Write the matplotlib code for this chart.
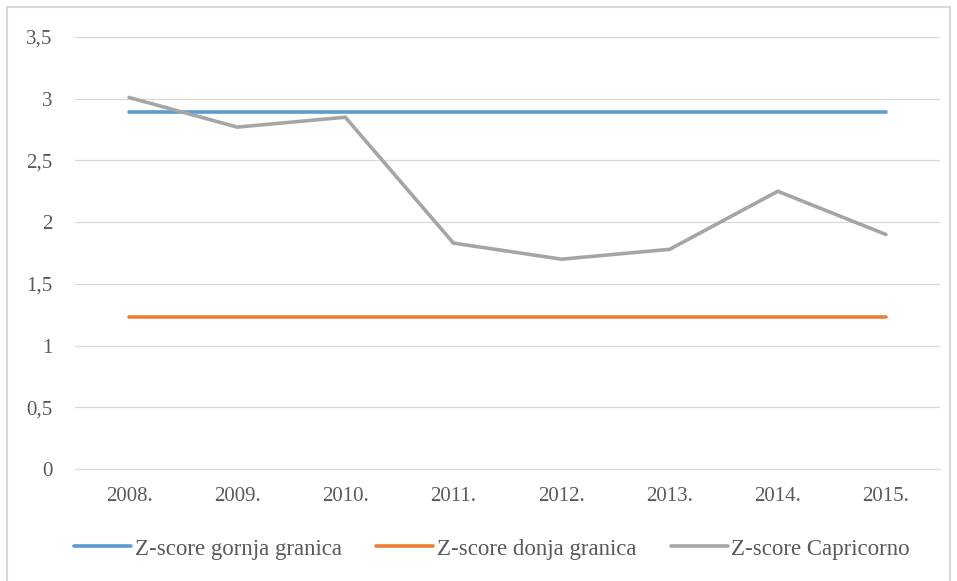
import numpy as np
import matplotlib.pyplot as plt
from matplotlib.patches import Rectangle

years = ["2008.", "2009.", "2010.", "2011.", "2012.", "2013.", "2014.", "2015."]
gornja = [2.89, 2.89, 2.89, 2.89, 2.89, 2.89, 2.89, 2.89]
donja = [1.23, 1.23, 1.23, 1.23, 1.23, 1.23, 1.23, 1.23]
capricorno = [3.01, 2.77, 2.85, 1.83, 1.70, 1.78, 2.25, 1.90]

plt.rcParams['font.family'] = ['Liberation Serif', 'DejaVu Serif']

fig = plt.figure(figsize=(9.57, 5.81), dpi=100)
W, H = 957, 581
ax = fig.add_axes([75 / W, 1 - 469 / H, (940 - 75) / W, (469 - 37) / H])

x = np.arange(len(years))
ax.plot(x, gornja, color="#5B9BD5", lw=2.6, solid_capstyle="round", label="Z-score gornja granica")
ax.plot(x, donja, color="#ED7D31", lw=2.6, solid_capstyle="round", label="Z-score donja granica")
ax.plot(x, capricorno, color="#A5A5A5", lw=2.6, solid_capstyle="round", label="Z-score Capricorno")

ax.set_xlim(-0.5, len(years) - 0.5)
ax.set_ylim(0, 3.5)
ax.set_yticks(np.arange(0, 3.51, 0.5))
ax.set_yticklabels(["0", "0,5", "1", "1,5", "2", "2,5", "3", "3,5"])
ax.set_xticks(x)
ax.set_xticklabels(years)
ax.grid(axis="y", color="#D9D9D9", lw=0.9)
ax.set_axisbelow(True)
for s in ax.spines.values():
    s.set_visible(False)
ax.spines["bottom"].set_visible(True)
ax.spines["bottom"].set_color("#D9D9D9")
ax.tick_params(length=0, labelsize=15, labelcolor="#595959")
ax.tick_params(axis="y", pad=16)
ax.tick_params(axis="x", pad=13)

fig.legend(loc="center", bbox_to_anchor=(492 / W, 1 - 549 / H), ncol=3, frameon=False,
           fontsize=16.5, labelcolor="#595959", handlelength=2.5, handletextpad=0.15,
           columnspacing=1.5)

fig.patches.append(Rectangle((7 / W, -0.01), (950 - 7) / W, 1 - 7 / H + 0.01,
                             transform=fig.transFigure, fill=False,
                             edgecolor="#D9D9D9", lw=1.5))

fig.savefig("out.png", dpi=100)
